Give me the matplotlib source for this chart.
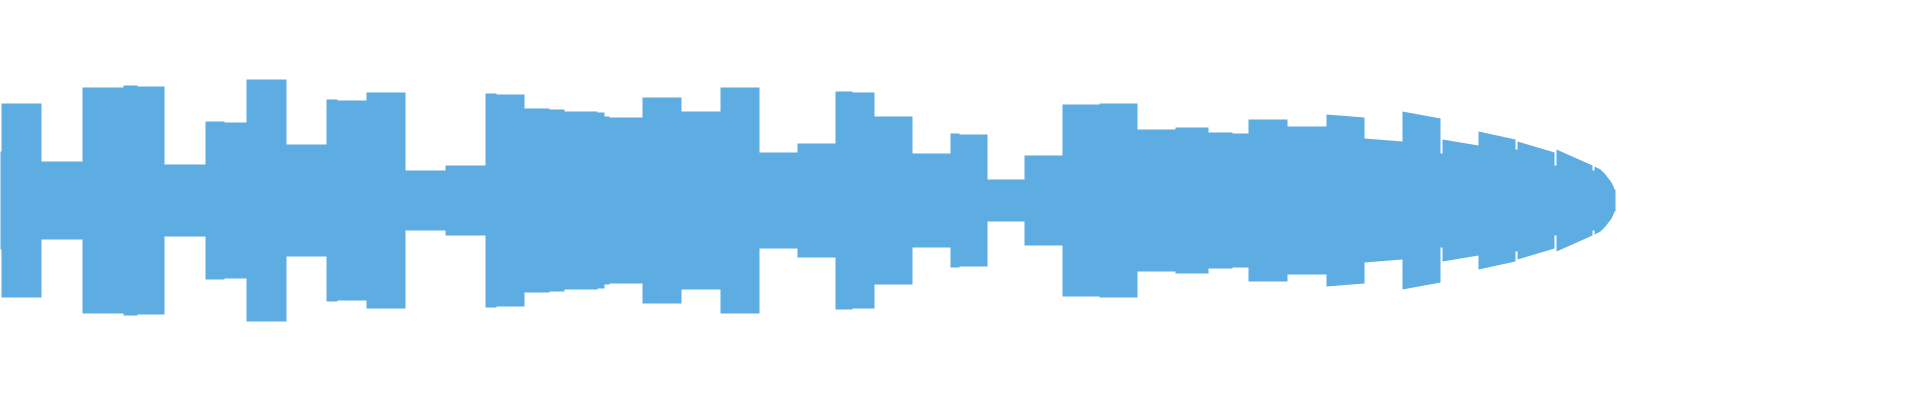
import matplotlib.pyplot as plt

# envelope: segment edges (frames) and half-amplitude at
# the start / end of each segment (short ones are the little dips between blocks)
edges = [0, 0.1, 4.1, 8.2, 12.3, 13.7, 16.4, 20.5, 22.4, 24.6, 28.6, 32.6, 33.7,
         36.6, 40.5, 44.5, 48.5, 49.6, 52.4, 54.9, 56.4, 59.7, 60.4, 60.9, 64.2,
         68.1, 72.0, 75.9, 79.7, 83.5, 85.2, 87.4, 91.2, 95.0, 95.9, 98.7, 102.4,
         106.2, 109.9, 113.7, 117.5, 120.8, 123.2, 124.8, 128.7, 132.6, 136.4,
         140.2, 144.0, 144.2, 147.8, 151.5, 151.7, 155.4, 155.6, 159.2, 159.4]
amp_start = [24.5, 48.5, 19.5, 56.5, 57.5, 57, 18, 39.5, 39, 60.5, 28, 50.5, 50,
             54, 15, 17.5, 53.5, 53, 46, 45.5, 44.5, 44, 42, 41.5, 51.5, 44.5,
             56.5, 24, 28.5, 54.5, 54, 42, 23.5, 33.5, 33, 10.5, 22.5, 48, 48.5,
             35.5, 36.5, 34, 33.5, 40.5, 37, 43, 31, 44.5, 23.5, 30.5, 34.5, 25.5,
             29.5, 17.5, 25.5, 15]
amp_end = [24.5, 48.5, 19.5, 56.5, 57.5, 57, 18, 39.5, 39, 60.5, 28, 50.5, 50,
           54, 15, 17.5, 53.5, 53, 46, 45.5, 44.5, 44, 42, 41.5, 51.5, 44.5,
           56.5, 24, 28.5, 54.5, 54, 42, 23.5, 33.5, 33, 10.5, 22.5, 48, 48.5,
           35.5, 36.5, 34, 33.5, 40.5, 37, 41.5, 29.5, 41, 23.5, 27.5, 30.5, 25.5,
           24, 17.5, 17.5, 15]
# fade-out at the end
tail_t = [159.4, 160.0, 160.5, 160.8, 161.1, 161.3, 161.4, 161.5]
tail_amp = [17, 15.5, 13, 11, 9, 7, 5.5, 5.5]

COLOR = "#5DADE2"

t, a = [], []
for i in range(len(amp_start)):
    t += [edges[i], edges[i + 1]]
    a += [amp_start[i], amp_end[i]]
t += tail_t + [tail_t[-1]]
a += tail_amp + [0]

fig = plt.figure(figsize=(19.2, 4), dpi=100)
ax = fig.add_axes([0, 0, 1, 1])
ax.fill_between(t, [-v for v in a], a, color=COLOR, linewidth=0)
ax.set_xlim(0, 192)
ax.set_ylim(-100, 100)
ax.axis("off")
fig.savefig("out.png", dpi=100, facecolor="white")
